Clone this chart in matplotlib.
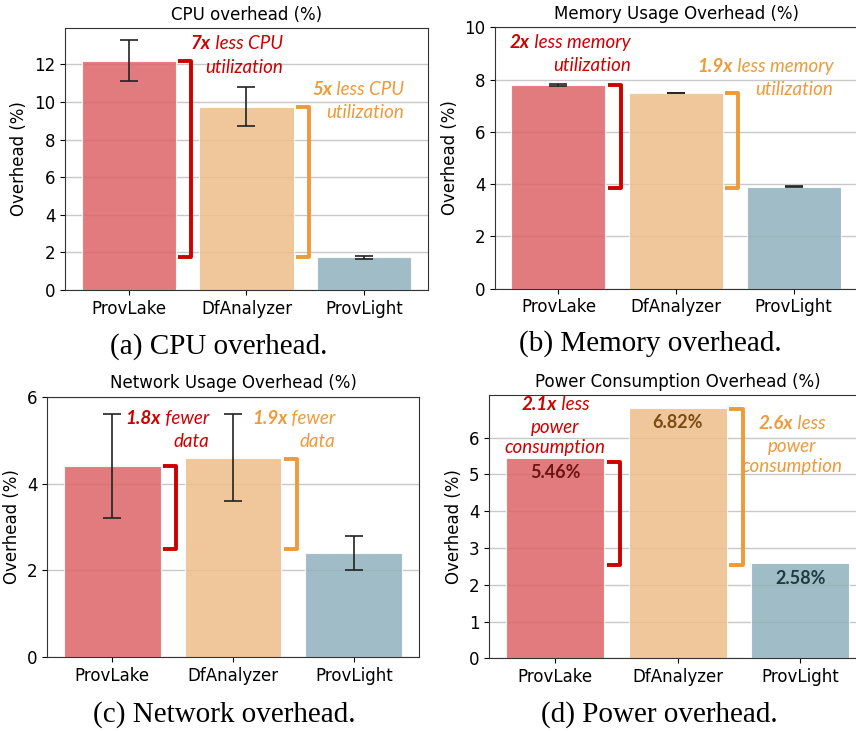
import matplotlib
matplotlib.use("Agg")
import matplotlib.pyplot as plt
from matplotlib.offsetbox import TextArea, HPacker, AnnotationBbox
import numpy as np

plt.rcParams['font.family'] = ['DejaVu Sans']

tools = ['ProvLake', 'DfAnalyzer', 'ProvLight']

cpu_mean = [12.2, 9.75, 1.75]
cpu_err = [1.07, 1.05, 0.08]

mem_mean = [7.78, 7.49, 3.9]
mem_err = [0.04, 0.01, 0.01]

net_mean = [4.4, 4.6, 2.4]
net_err = [1.2, 1.0, 0.4]

power_mean = [5.46, 6.82, 2.58]
power_labels = ['5.46%', '6.82%', '2.58%']

bar_colors = ['#DD6466', '#EDBE89', '#90B1BC']
label_colors = ['#6E1414', '#7A4B12', '#1E3B44']
red = '#CC0000'
orange = '#EE9A3A'

ann_font = 'Lato'
ann_size = 13.5

W, H = 856, 731
fig = plt.figure(figsize=(W / 100, H / 100), dpi=100)


def px_axes(left, right, top, bottom):
    return fig.add_axes([left / W, 1 - bottom / H, (right - left) / W, (bottom - top) / H])


def draw_bars(ax, means, errs, title, ylim=None):
    x = np.arange(len(tools))
    bars = ax.bar(x, means, width=0.8, color=bar_colors, alpha=0.85,
                  edgecolor='white', linewidth=0.8, zorder=2)
    if errs is not None:
        ax.errorbar(x, means, yerr=errs, fmt='none', ecolor='#222222',
                    elinewidth=1.2, capsize=6.5, capthick=1.2, zorder=3)
    ax.set_xticks(x)
    ax.set_xticklabels(tools, fontsize=12)
    ax.tick_params(axis='y', labelsize=12)
    ax.set_ylabel('Overhead (%)', fontsize=12)
    ax.set_title(title, fontsize=12)
    ax.yaxis.grid(True, color='#c8c8c8', linewidth=1, zorder=0)
    ax.set_axisbelow(True)
    for s in ax.spines.values():
        s.set_color('#333333')
    if ylim is not None:
        ax.set_ylim(*ylim)
    return bars


def bracket(ax, i, top, bottom, color):
    x0 = i + 0.42
    x1 = i + 0.53
    ax.plot([x0, x1, x1, x0], [top, top, bottom, bottom], color=color,
            linewidth=2.8, solid_joinstyle='round', solid_capstyle='butt',
            zorder=4, clip_on=False)


def line(ax, x, y, bold, rest, color, align):
    parts = []
    if bold:
        parts.append(TextArea(bold, textprops=dict(color=color, fontsize=ann_size,
                                                   fontweight='bold', fontstyle='italic',
                                                   family=ann_font)))
    if rest:
        parts.append(TextArea(rest, textprops=dict(color=color, fontsize=ann_size,
                                                   fontstyle='italic', family=ann_font)))
    box = HPacker(children=parts, pad=0, sep=0, align='baseline')
    bx = 1.0 if align == 'right' else 0.5
    ab = AnnotationBbox(box, (x, y), xycoords='data', box_alignment=(bx, 0.5),
                        frameon=False, pad=0, annotation_clip=False, zorder=5)
    ax.add_artist(ab)


# (a) CPU
ax = px_axes(65, 428, 28, 290)
draw_bars(ax, cpu_mean, cpu_err, 'CPU overhead (%)')
bracket(ax, 0, cpu_mean[0], cpu_mean[2], red)
bracket(ax, 1, cpu_mean[1], cpu_mean[2], orange)
line(ax, 1.31, 13.1, '7x', ' less CPU', red, 'right')
line(ax, 1.31, 11.85, None, 'utilization', red, 'right')
line(ax, 2.34, 10.67, '5x', ' less CPU', orange, 'right')
line(ax, 2.34, 9.44, None, 'utilization', orange, 'right')

# (b) Memory
ax = px_axes(495, 857, 27.3, 288.7)
draw_bars(ax, mem_mean, mem_err, 'Memory Usage Overhead (%)', ylim=(0, 10))
bracket(ax, 0, mem_mean[0], mem_mean[2] - 0.05, red)
bracket(ax, 1, mem_mean[1], mem_mean[2] - 0.05, orange)
line(ax, 0.615, 9.41, '2x', ' less memory', red, 'right')
line(ax, 0.615, 8.53, None, 'utilization', red, 'right')
line(ax, 2.34, 8.49, '1.9x', ' less memory', orange, 'right')
line(ax, 2.34, 7.61, None, 'utilization', orange, 'right')

# (c) Network
ax = px_axes(47, 419, 396.7, 657.3)
draw_bars(ax, net_mean, net_err, 'Network Usage Overhead (%)', ylim=(0, 6))
ax.set_yticks([0, 2, 4, 6])
bracket(ax, 0, net_mean[0], net_mean[2] + 0.1, red)
bracket(ax, 1, net_mean[1] - 0.04, net_mean[2] + 0.1, orange)
line(ax, 0.80, 5.49, '1.8x', ' fewer', red, 'right')
line(ax, 0.80, 4.96, None, 'data', red, 'right')
line(ax, 1.85, 5.49, '1.9x', ' fewer', orange, 'right')
line(ax, 1.85, 4.96, None, 'data', orange, 'right')

# (d) Power
ax = px_axes(489, 866.5, 395, 658.3)
draw_bars(ax, power_mean, None, 'Power Consumption Overhead (%)')
ax.set_yticks(range(7))
for i, (v, lab) in enumerate(zip(power_mean, power_labels)):
    ax.annotate(lab, xy=(i, v), xytext=(0, -11), textcoords='offset points',
                ha='center', va='center', fontsize=13, fontweight='bold',
                family=ann_font, color=label_colors[i], zorder=5)
bracket(ax, 0, power_mean[0] - 0.12, power_mean[2] - 0.04, red)
bracket(ax, 1, power_mean[1] - 0.03, power_mean[2] - 0.04, orange)
line(ax, 0, 6.89, '2.1x', ' less', red, 'center')
line(ax, 0, 6.29, None, 'power', red, 'center')
line(ax, 0, 5.73, None, 'consumption', red, 'center')
line(ax, 1.93, 6.39, '2.6x', ' less', orange, 'center')
line(ax, 1.93, 5.77, None, 'power', orange, 'center')
line(ax, 1.93, 5.21, None, 'consumption', orange, 'center')

# sub-figure captions
cap = dict(fontsize=21, family='Liberation Serif', ha='center', va='center')
fig.text(219 / W, 1 - 347 / H, '(a) CPU overhead.', **cap)
fig.text(650 / W, 1 - 344 / H, '(b) Memory overhead.', **cap)
fig.text(224 / W, 1 - 715 / H, '(c) Network overhead.', **cap)
fig.text(659 / W, 1 - 715 / H, '(d) Power overhead.', **cap)

fig.savefig('out.png', dpi=100)
